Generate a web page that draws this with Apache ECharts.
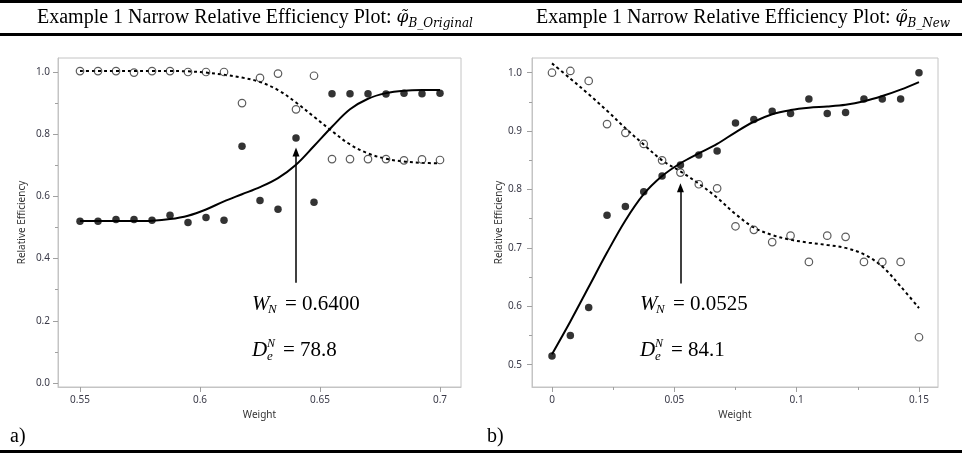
<!DOCTYPE html>
<html lang="en">
<head>
<meta charset="UTF-8" />
<title>Example 1 Narrow Relative Efficiency Plot</title>
<script src="https://cdn.jsdelivr.net/npm/echarts@6.0.0/dist/echarts.min.js"></script>
<style>
  html, body { margin: 0; padding: 0; background: #fff; }
  #main { width: 962px; height: 456px; }
</style>
</head>
<body>
<div id="main"></div>
<script>
  // panel a) - original weights
  const weightsA = [0.55, 0.5575, 0.565, 0.5725, 0.58, 0.5875, 0.595, 0.6025, 0.61, 0.6175, 0.625,
    0.6325, 0.64, 0.6475, 0.655, 0.6625, 0.67, 0.6775, 0.685, 0.6925, 0.7];
  const filledA = [0.520, 0.520, 0.526, 0.526, 0.523, 0.539, 0.516, 0.532, 0.523, 0.761, 0.587,
    0.559, 0.788, 0.581, 0.930, 0.930, 0.930, 0.929, 0.932, 0.930, 0.932];
  const openA = [1.003, 1.003, 1.003, 0.998, 1.003, 1.003, 1.0, 1.0, 1.0, 0.900, 0.981,
    0.995, 0.880, 0.988, 0.720, 0.720, 0.720, 0.720, 0.716, 0.719, 0.717];
  const solidFitA = [0.521, 0.521, 0.521, 0.521, 0.522, 0.527, 0.538, 0.558, 0.584, 0.607, 0.630,
    0.659, 0.702, 0.762, 0.824, 0.880, 0.914, 0.932, 0.940, 0.942, 0.942];
  const dashFitA = [1.003, 1.003, 1.003, 1.003, 1.003, 1.003, 1.002, 0.998, 0.991, 0.982, 0.968,
    0.942, 0.902, 0.856, 0.810, 0.767, 0.738, 0.721, 0.712, 0.708, 0.706];
  const arrowA = [0.64, 0.322, 0.743]; // weight, shaft bottom, head
  const wnA = '0.6400';
  const deA = '78.8';

  // panel b) - new weights
  const weightsB = [0, 0.0075, 0.015, 0.0225, 0.03, 0.0375, 0.045, 0.0525, 0.06, 0.0675, 0.075,
    0.0825, 0.09, 0.0975, 0.105, 0.1125, 0.12, 0.1275, 0.135, 0.1425, 0.15];
  const filledB = [0.515, 0.550, 0.598, 0.756, 0.771, 0.796, 0.823, 0.842, 0.859, 0.866, 0.914,
    0.920, 0.934, 0.930, 0.955, 0.930, 0.932, 0.955, 0.955, 0.955, 1.0];
  const openB = [1.0, 1.003, 0.986, 0.912, 0.897, 0.878, 0.850, 0.829, 0.809, 0.802, 0.737,
    0.731, 0.710, 0.721, 0.676, 0.721, 0.719, 0.676, 0.676, 0.676, 0.547];
  const solidFitB = [0.518, 0.574, 0.633, 0.692, 0.747, 0.792, 0.823, 0.845, 0.862, 0.878, 0.898,
    0.916, 0.929, 0.936, 0.940, 0.942, 0.945, 0.951, 0.960, 0.971, 0.984];
  const dashFitB = [1.016, 0.990, 0.963, 0.935, 0.905, 0.877, 0.850, 0.831, 0.810, 0.786, 0.758,
    0.735, 0.722, 0.714, 0.709, 0.705, 0.700, 0.689, 0.668, 0.634, 0.597];
  const arrowB = [0.0525, 0.639, 0.803];
  const wnB = '0.0525';
  const deB = '84.1';

  // tick values
  const xTicksA = [0.55, 0.6, 0.65, 0.7];
  const yTicksA = [0, 0.2, 0.4, 0.6, 0.8, 1.0];
  const yMinorA = [0.1, 0.3, 0.5, 0.7, 0.9];
  const xTicksB = [0, 0.05, 0.1, 0.15];
  const xMinorB = [0.025, 0.075, 0.125];
  const yTicksB = [0.5, 0.6, 0.7, 0.8, 0.9, 1.0];
  const yMinorB = [0.55, 0.65, 0.75, 0.85, 0.95];

  const titleText = 'Example 1 Narrow Relative Efficiency Plot: ';
  const subA = 'B_Original';
  const subB = 'B_New';

  const zip = (xs, ys) => xs.map((x, i) => [x, ys[i]]);

  const frame = '#c4c4c4';
  const tickCol = '#a0a0a0';
  const labelCol = '#3a3a48';
  const sans = 'Noto Sans';
  const serif = 'Liberation Serif';

  function xAxisOf(grid, min, max, ticks, minor, fmt, gap) {
    const axes = [{
      gridIndex: grid, type: 'value', min: min, max: max,
      name: 'Weight', nameLocation: 'middle', nameGap: gap,
      nameTextStyle: { fontFamily: sans, fontSize: 10, color: '#333' },
      axisLine: { show: true, onZero: false, lineStyle: { color: frame } },
      axisTick: { show: true, length: 5, customValues: ticks, lineStyle: { color: tickCol } },
      axisLabel: { customValues: ticks, margin: 8, fontFamily: sans, fontSize: 10, color: labelCol, formatter: fmt },
      splitLine: { show: false }
    }];
    if (minor) {
      axes.push({
        gridIndex: grid, type: 'value', min: min, max: max, position: 'bottom',
        axisLine: { show: false, onZero: false },
        axisTick: { show: true, length: 3, customValues: minor, lineStyle: { color: tickCol } },
        axisLabel: { show: false }, splitLine: { show: false }
      });
    }
    return axes;
  }

  function yAxisOf(grid, min, max, ticks, minor, gap, margin) {
    return [{
      gridIndex: grid, type: 'value', min: min, max: max, position: 'left',
      name: 'Relative Efficiency', nameLocation: 'middle', nameGap: gap,
      nameTextStyle: { fontFamily: sans, fontSize: 10, color: '#333' },
      axisLine: { show: true, onZero: false, lineStyle: { color: frame } },
      axisTick: { show: true, length: 5, customValues: ticks, lineStyle: { color: tickCol } },
      axisLabel: { customValues: ticks, margin: margin, fontFamily: sans, fontSize: 10, color: labelCol,
        formatter: v => v.toFixed(1) },
      splitLine: { show: false }
    }, {
      gridIndex: grid, type: 'value', min: min, max: max, position: 'left',
      axisLine: { show: false, onZero: false },
      axisTick: { show: true, length: 3, customValues: minor, lineStyle: { color: tickCol } },
      axisLabel: { show: false }, splitLine: { show: false }
    }];
  }

  const xAxes = xAxisOf(0, 0.54083, 0.70875, xTicksA, null, v => String(v), 20)
    .concat(xAxisOf(1, -0.00817, 0.15777, xTicksB, xMinorB, v => String(v), 20));
  // indices: 0 = a, 1 = b, 2 = b minor
  const yAxes = yAxisOf(0, -0.0129, 1.045, yTicksA, yMinorA, 31, 8)
    .concat(yAxisOf(1, 0.4618, 1.0252, yTicksB, yMinorB, 25, 10));
  // indices: 0 = a, 1 = a minor, 2 = b, 3 = b minor

  function panelSeries(xi, yi, weights, filled, open, solid, dash, arrow) {
    return [
      {
        type: 'line', xAxisIndex: xi, yAxisIndex: yi, data: zip(weights, dash),
        smooth: 0.35, showSymbol: false, silent: true,
        lineStyle: { color: '#000', width: 2, type: [3, 3] }, z: 2
      },
      {
        type: 'line', xAxisIndex: xi, yAxisIndex: yi, data: zip(weights, solid),
        smooth: 0.35, showSymbol: false, silent: true,
        lineStyle: { color: '#000', width: 2 }, z: 2,
        markLine: {
          silent: true, animation: false,
          symbol: ['none', 'triangle'], symbolSize: [7, 9],
          lineStyle: { color: '#000', width: 1.5, type: 'solid' },
          label: { show: false },
          data: [[{ coord: [arrow[0], arrow[1]] }, { coord: [arrow[0], arrow[2]] }]]
        }
      },
      {
        type: 'scatter', xAxisIndex: xi, yAxisIndex: yi, data: zip(weights, open),
        symbol: 'circle', symbolSize: 7.5, silent: true,
        itemStyle: { color: 'rgba(255,255,255,0)', borderColor: '#333', borderWidth: 1.2 }, z: 3
      },
      {
        type: 'scatter', xAxisIndex: xi, yAxisIndex: yi, data: zip(weights, filled),
        symbol: 'circle', symbolSize: 7.5, silent: true,
        itemStyle: { color: '#000' }, z: 3
      }
    ];
  }

  function txt(x, y, text, size, extra) {
    return {
      type: 'text', x: x, y: y, silent: true,
      style: Object.assign({ text: text, fontSize: size, fontFamily: serif, fill: '#000',
        align: 'left', verticalAlign: 'middle' }, extra || {})
    };
  }

  function title(x, sub) {
    return {
      type: 'text', x: x, y: 18, silent: true,
      style: {
        text: '{m|' + titleText + '}{p|φ̃}{s|' + sub + '}',
        verticalAlign: 'middle', align: 'left',
        rich: {
          m: { fontFamily: serif, fontSize: 20, lineHeight: 24, fill: '#000' },
          p: { fontFamily: 'DejaVu Serif', fontStyle: 'italic', fontSize: 17, lineHeight: 24, fill: '#000' },
          s: { fontFamily: 'DejaVu Serif', fontStyle: 'italic', fontSize: 12, lineHeight: 16,
            verticalAlign: 'bottom', fill: '#000' }
        }
      }
    };
  }

  function annotation(x, wn, de) {
    const it = { fontStyle: 'italic' };
    return [
      txt(x, 304, 'W', 21, it),
      txt(x + 16, 310, 'N', 13, it),
      txt(x + 33, 304, '= ' + wn, 21),
      txt(x, 350, 'D', 21, it),
      txt(x + 15, 344, 'N', 12, it),
      txt(x + 15, 357, 'e', 13, it),
      txt(x + 31, 350, '= ' + de, 21)
    ];
  }

  const graphics = [
    { type: 'rect', shape: { x: 0, y: 0, width: 962, height: 3 }, style: { fill: '#000' }, silent: true },
    { type: 'rect', shape: { x: 0, y: 33, width: 962, height: 3 }, style: { fill: '#000' }, silent: true },
    { type: 'rect', shape: { x: 0, y: 450, width: 962, height: 3 }, style: { fill: '#000' }, silent: true },
    title(37, subA),
    title(536, subB),
    txt(10, 437, 'a)', 20),
    txt(487, 437, 'b)', 20)
  ].concat(annotation(252, wnA, deA), annotation(640, wnB, deB));

  const options = {
    animation: false,
    backgroundColor: '#fff',
    grid: [
      { left: 58, top: 58, width: 403, height: 329, show: true, borderColor: frame, borderWidth: 1 },
      { left: 532, top: 58, width: 406, height: 329, show: true, borderColor: frame, borderWidth: 1 }
    ],
    xAxis: xAxes,
    yAxis: yAxes,
    series: panelSeries(0, 0, weightsA, filledA, openA, solidFitA, dashFitA, arrowA)
      .concat(panelSeries(1, 2, weightsB, filledB, openB, solidFitB, dashFitB, arrowB)),
    graphic: graphics
  };

  var myChart = echarts.init(document.querySelector('#main'));
  myChart.setOption(options);
</script>
</body>
</html>
